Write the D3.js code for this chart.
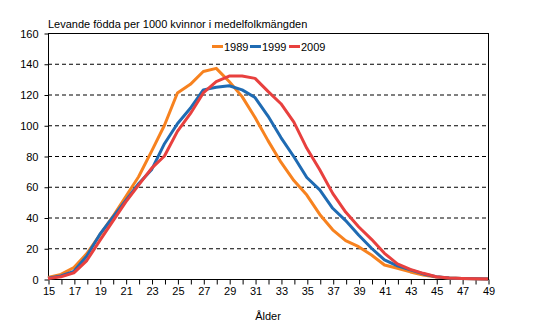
<!DOCTYPE html>
<html><head><meta charset="utf-8">
<script src="https://cdn.jsdelivr.net/npm/d3@7"></script>
<style>body{margin:0;background:#fff}svg{display:block}text{font-family:"Liberation Sans",Arial,sans-serif;font-size:11px;fill:#000}</style>
</head><body>
<script>
const ages = d3.range(15, 50);
const series = ["1989", "1999", "2009"];
const values1989 = [1, 3, 7.5, 16.5, 28.5, 40.5, 53.5, 66.5, 83, 100, 121, 126.6, 135, 137, 128.5, 118.6, 105, 90, 76, 64, 54.6, 42, 32, 25, 21, 15.6, 9.1, 7, 4.6, 2.6, 1.3, 0.6, 0.3, 0.15, 0.05];
const values1999 = [0.5, 2, 5, 15, 29, 40, 51, 62, 71, 88, 101, 111, 123, 124.7, 125.7, 123, 118, 106, 92, 79.5, 66, 58, 46, 38, 28.6, 20, 12.4, 8.5, 5.9, 3.3, 1.5, 0.6, 0.3, 0.1, 0.05];
const values2009 = [0.3, 1.5, 4, 12, 25, 37.5, 50, 61, 72, 80, 96, 107.5, 121, 128.4, 132, 132, 130.5, 122, 114, 102, 85, 71, 55.7, 43.5, 34, 25.8, 16.7, 9.8, 6.3, 3.7, 1.5, 0.6, 0.3, 0.1, 0.05];
const yTicks = [0, 20, 40, 60, 80, 100, 120, 140, 160];
const xLabels = d3.range(15, 50, 2);
const colors = ["#f7821f", "#1f6bb3", "#e8403e"];
const title = "Levande födda per 1000 kvinnor i medelfolkmängden";
const xTitle = "Ålder";

const W = 554, H = 323;
const m = {l: 48, r: 66, t: 33, b: 44};
const svg = d3.select("body").append("svg").attr("width", W).attr("height", H);
const x = d3.scaleLinear().domain([15, 49]).range([m.l, W - m.r]);
const y = d3.scaleLinear().domain([0, 160]).range([H - m.b, m.t]);

// gridlines
svg.append("g").selectAll("line").data(yTicks.filter(d => d > 0 && d < 160)).join("line")
  .attr("x1", m.l).attr("x2", W - m.r).attr("y1", d => y(d) + 0.5).attr("y2", d => y(d) + 0.5)
  .attr("stroke", "#000").attr("stroke-dasharray", "4,3").attr("stroke-width", 1);

// frame
svg.append("rect").attr("x", m.l + 0.5).attr("y", m.t + 0.5).attr("width", x(49) - m.l).attr("height", y(0) - m.t)
  .attr("fill", "none").attr("stroke", "#000");

// y axis
const ya = svg.append("g").attr("transform", `translate(${m.l + 0.5},0.5)`)
  .call(d3.axisLeft(y).tickValues(yTicks).tickSize(4).tickPadding(6).tickFormat(d3.format("d")));
ya.select(".domain").remove();
ya.selectAll("text").style("font-size", "11px").attr("font-family", null);

// x axis
const xa = svg.append("g").attr("transform", `translate(0.5,${y(0) + 0.5})`)
  .call(d3.axisBottom(x).tickValues(ages).tickSize(5).tickPadding(3).tickFormat(d => xLabels.includes(d) ? d : ""));
xa.select(".domain").remove();
xa.selectAll("text").attr("font-family", null).style("font-size", "11px");

// lines
const data = [values1989, values1999, values2009];
const line = d3.line().x((d, i) => x(ages[i])).y(d => y(d));
svg.append("g").selectAll("path").data(data).join("path")
  .attr("d", line).attr("fill", "none").attr("stroke", (d, i) => colors[i])
  .attr("stroke-width", 3).attr("stroke-linejoin", "round");

// title
svg.append("text").attr("x", m.l).attr("y", 28).text(title);
svg.append("text").attr("x", (m.l + x(49)) / 2).attr("y", 320).attr("text-anchor", "middle").text(xTitle);

// legend
const lg = svg.append("g");
const lx = [212, 250, 289];
series.forEach((s, i) => {
  lg.append("line").attr("x1", lx[i]).attr("x2", lx[i] + 11).attr("y1", 46.5).attr("y2", 46.5)
    .attr("stroke", colors[i]).attr("stroke-width", 3);
  lg.append("text").attr("x", lx[i] + 12).attr("y", 50.5).text(s);
});
</script>
</body></html>
